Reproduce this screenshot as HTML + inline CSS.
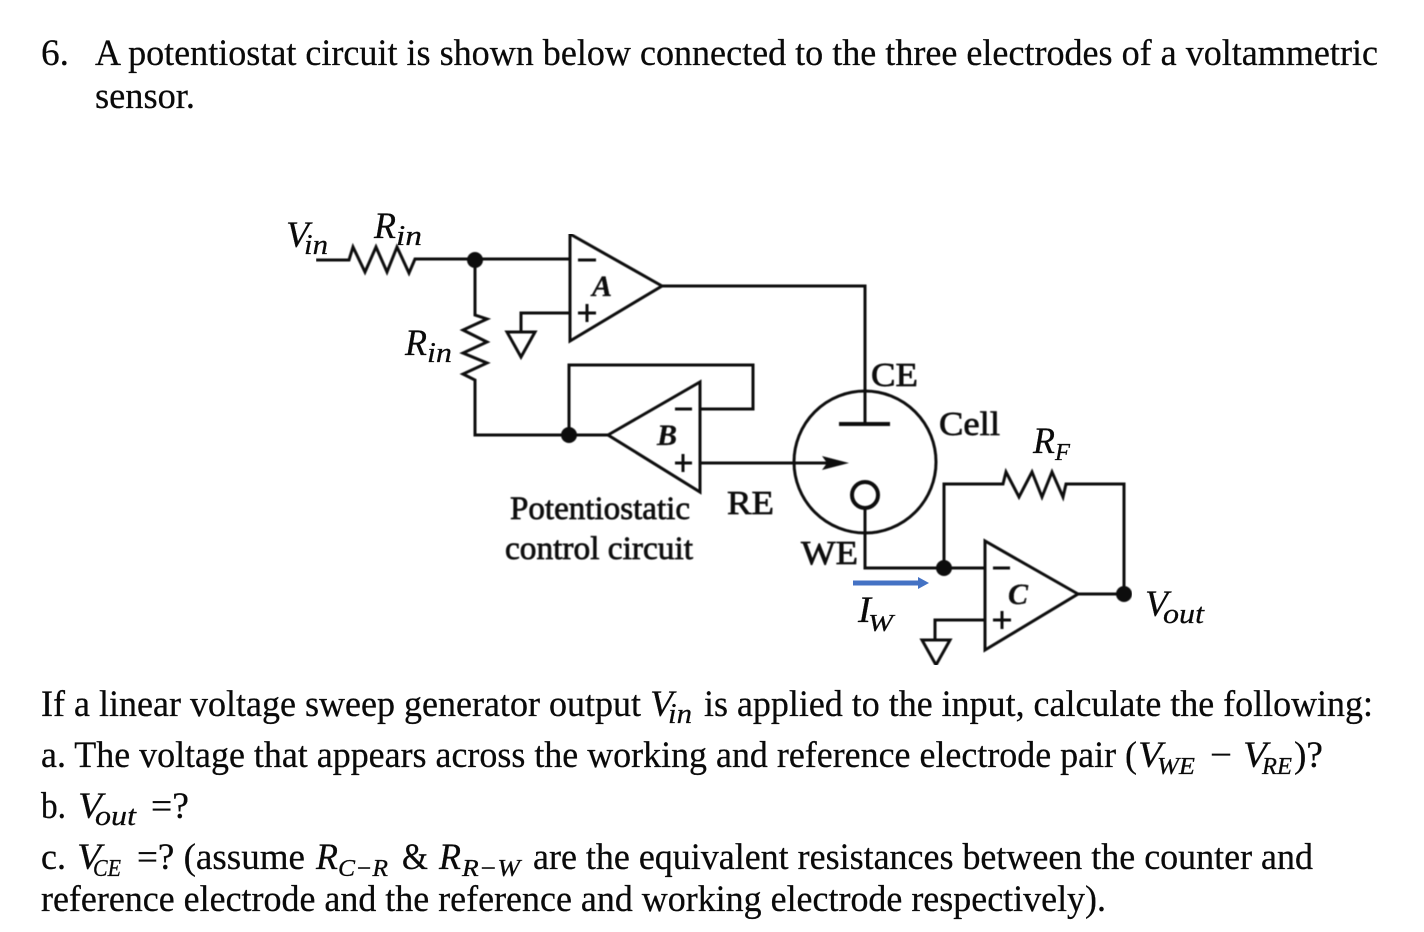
<!DOCTYPE html>
<html><head><meta charset="utf-8"><style>
html,body{margin:0;padding:0;background:#fff}
svg{display:block}
text{font-family:"Liberation Serif",serif;fill:#0a0a0a;stroke:#0a0a0a;stroke-width:.25}
.t{font-size:37px}
.m{font-size:37px;font-style:italic}
.s{font-size:28px;font-style:italic}
.c{font-size:24px;font-style:italic}
.d{font-size:34px;stroke-width:.7}
.l{font-size:33px;stroke-width:.7}
.o{font-size:30px;font-weight:bold;font-style:italic}
.w{fill:none;stroke:#111;stroke-width:3;stroke-linejoin:miter}
</style></head><body>
<svg width="1424" height="932" viewBox="0 0 1424 932" xmlns="http://www.w3.org/2000/svg">
<defs><filter id="b" x="0" y="0" width="100%" height="100%"><feGaussianBlur stdDeviation="0.5"/></filter></defs>
<rect width="1424" height="932" fill="#fff"/>
<text class="t" x="41" y="65" textLength="28" lengthAdjust="spacingAndGlyphs">6.</text>
<text class="t" x="95" y="65" textLength="1283" lengthAdjust="spacingAndGlyphs">A potentiostat circuit is shown below connected to the three electrodes of a voltammetric</text>
<text class="t" x="95" y="108" textLength="100" lengthAdjust="spacingAndGlyphs">sensor.</text>

<g filter="url(#b)">
<path class="w" d="M316 260H349L353 247L365 272L376 247L387 272L397 247L409 273L415 259H570"/>
<path class="w" d="M475 260V315L487 319L463 330L487 342L463 353L487 363L463 374L475 380V435H608"/>
<path class="w" d="M570 234V341L662 286Z"/>
<path class="w" d="M662 286H865V424M570 313H521V332"/>
<path class="w" d="M507 332H535L521 357Z"/>
<path class="w" d="M569 435V365H753V409H700"/>
<path class="w" d="M608 435L700 382V492Z"/>
<path class="w" d="M700 463H830"/>
<path d="M822 456L849 463L822 470L827 463Z" fill="#111"/>
<circle class="w" cx="865" cy="462" r="71"/>
<path class="w" d="M839 424H890" style="stroke-width:4"/>
<circle class="w" cx="865" cy="495" r="13" style="stroke-width:4"/>
<path class="w" d="M865 508V568H985"/>
<path class="w" d="M944 568V484H1003L1006 472L1019 497L1032 472L1042 497L1052 472L1063 497L1066 484H1124V594H1078"/>
<path class="w" d="M985 541V650L1078 594Z"/>
<path class="w" d="M985 620H935V640"/>
<path class="w" d="M922 640H950L936 665Z"/>
<path class="w" d="M578 260H596"/>
<path class="w" d="M675 409H692"/>
<path class="w" d="M993 568H1010"/>
<path class="w" d="M578 313H596M587 304V322"/>
<path class="w" d="M675 463H692M683 454V472"/>
<path class="w" d="M993 620H1011M1002 611V629"/>
<circle cx="475" cy="260" r="8" fill="#111"/>
<circle cx="569" cy="435" r="8" fill="#111"/>
<circle cx="944" cy="568" r="8" fill="#111"/>
<circle cx="1124" cy="594" r="8" fill="#111"/>
<text class="o" x="592" y="296">A</text>
<text class="o" x="657" y="445">B</text>
<text class="o" x="1008" y="604">C</text>
<text class="d" x="871" y="386" textLength="47" lengthAdjust="spacingAndGlyphs">CE</text>
<text class="d" x="939" y="435" textLength="61" lengthAdjust="spacingAndGlyphs">Cell</text>
<text class="d" x="727" y="514" textLength="47" lengthAdjust="spacingAndGlyphs">RE</text>
<text class="d" x="801" y="564" textLength="57" lengthAdjust="spacingAndGlyphs">WE</text>
<text class="l" x="510" y="519" textLength="180" lengthAdjust="spacingAndGlyphs">Potentiostatic</text>
<text class="l" x="505" y="559" textLength="188" lengthAdjust="spacingAndGlyphs">control circuit</text>
</g>
<path d="M853 580.500H918V577L929 583L918 589V585.500H853Z" fill="#4472c4"/>

<text class="m" x="286" y="247" textLength="23" lengthAdjust="spacingAndGlyphs">V</text><text class="s" x="304" y="254" textLength="24" lengthAdjust="spacingAndGlyphs">in</text>
<text class="m" x="374" y="238" textLength="22" lengthAdjust="spacingAndGlyphs">R</text><text class="s" x="396" y="245" textLength="26" lengthAdjust="spacingAndGlyphs">in</text>
<text class="m" x="405" y="355" textLength="22" lengthAdjust="spacingAndGlyphs">R</text><text class="s" x="427" y="362" textLength="25" lengthAdjust="spacingAndGlyphs">in</text>
<text class="m" x="1033" y="453" textLength="22" lengthAdjust="spacingAndGlyphs">R</text><text class="c" x="1055" y="460" textLength="15" lengthAdjust="spacingAndGlyphs">F</text>
<text class="m" x="858" y="622" textLength="13" lengthAdjust="spacingAndGlyphs">I</text><text class="c" x="868" y="631" textLength="25" lengthAdjust="spacingAndGlyphs">W</text>
<text class="m" x="1145" y="616" textLength="23" lengthAdjust="spacingAndGlyphs">V</text><text class="s" x="1163" y="623" textLength="41" lengthAdjust="spacingAndGlyphs">out</text>

<text class="t" x="41" y="716" textLength="600" lengthAdjust="spacingAndGlyphs">If a linear voltage sweep generator output</text>
<text class="m" x="650" y="716" textLength="23" lengthAdjust="spacingAndGlyphs">V</text><text class="s" x="668" y="723" textLength="24" lengthAdjust="spacingAndGlyphs">in</text>
<text class="t" x="704" y="716" textLength="669" lengthAdjust="spacingAndGlyphs">is applied to the input, calculate the following:</text>

<text class="t" x="41" y="767" textLength="1096" lengthAdjust="spacingAndGlyphs">a. The voltage that appears across the working and reference electrode pair (</text>
<text class="m" x="1138" y="767" textLength="24" lengthAdjust="spacingAndGlyphs">V</text><text class="c" x="1157" y="774" textLength="38" lengthAdjust="spacingAndGlyphs">WE</text>
<text class="t" x="1210" y="767" textLength="22" lengthAdjust="spacingAndGlyphs">−</text>
<text class="m" x="1243" y="767" textLength="24" lengthAdjust="spacingAndGlyphs">V</text><text class="c" x="1262" y="774" textLength="30" lengthAdjust="spacingAndGlyphs">RE</text>
<text class="t" x="1294" y="767" textLength="29" lengthAdjust="spacingAndGlyphs">)?</text>

<text class="t" x="41" y="818" textLength="25" lengthAdjust="spacingAndGlyphs">b.</text>
<text class="m" x="78" y="818" textLength="24" lengthAdjust="spacingAndGlyphs">V</text><text class="s" x="95" y="825" textLength="41" lengthAdjust="spacingAndGlyphs">out</text>
<text class="t" x="151" y="818" textLength="38" lengthAdjust="spacingAndGlyphs">=?</text>

<text class="t" x="41" y="869" textLength="25" lengthAdjust="spacingAndGlyphs">c.</text>
<text class="m" x="77" y="869" textLength="24" lengthAdjust="spacingAndGlyphs">V</text><text class="c" x="93" y="876" textLength="28" lengthAdjust="spacingAndGlyphs">CE</text>
<text class="t" x="137" y="869" textLength="168" lengthAdjust="spacingAndGlyphs">=? (assume</text>
<text class="m" x="316" y="869" textLength="22" lengthAdjust="spacingAndGlyphs">R</text><text class="c" x="338" y="876" textLength="50" lengthAdjust="spacingAndGlyphs">C−R</text>
<text class="t" x="402" y="869" textLength="26" lengthAdjust="spacingAndGlyphs">&amp;</text>
<text class="m" x="439" y="869" textLength="22" lengthAdjust="spacingAndGlyphs">R</text><text class="c" x="462" y="876" textLength="58" lengthAdjust="spacingAndGlyphs">R−W</text>
<text class="t" x="533" y="869" textLength="780" lengthAdjust="spacingAndGlyphs">are the equivalent resistances between the counter and</text>

<text class="t" x="41" y="911" textLength="1065" lengthAdjust="spacingAndGlyphs">reference electrode and the reference and working electrode respectively).</text>
</svg>
</body></html>
